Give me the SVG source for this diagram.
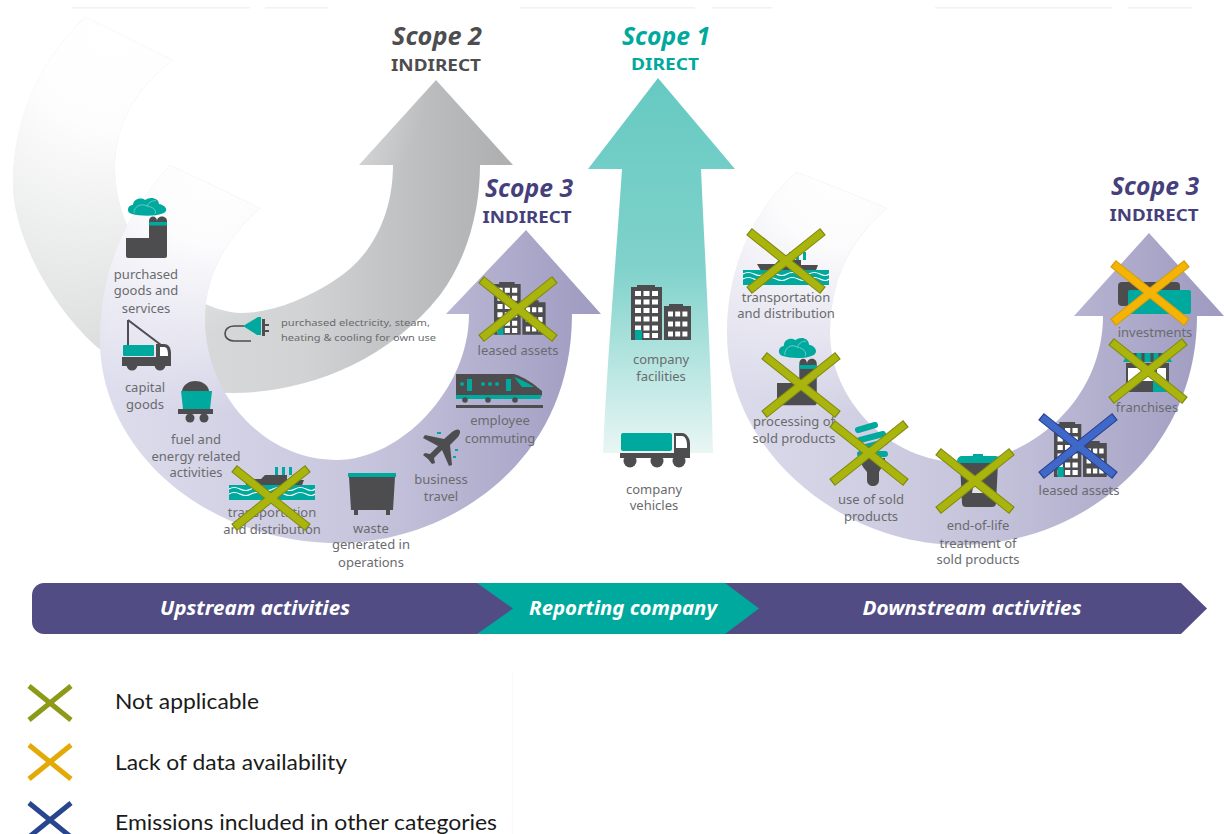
<svg xmlns="http://www.w3.org/2000/svg" width="1224" height="834" viewBox="0 0 1224 834">
<style>
text{font-family:"Noto Sans","Open Sans","Liberation Sans",sans-serif}
.l{font-size:13px;fill:#6a6b6e;text-anchor:middle}
.s{font-size:9.8px;fill:#6a6b6e}
.h{font-size:25px;font-weight:700;font-style:italic;text-anchor:middle}
.i{font-size:16.5px;font-weight:700;text-anchor:middle}
.b{font-size:19.5px;font-weight:700;font-style:italic;fill:#fff;text-anchor:middle}
.k{font-family:Lato,"Liberation Sans",sans-serif;font-size:22px;fill:#1a1a1a}
.d{fill:#4d4d4f}.t{fill:#00a99d}.w{fill:#fff}
.ln{fill:none;stroke-linecap:butt}
</style>
<defs>
<linearGradient id="g2" gradientUnits="userSpaceOnUse" x1="60" y1="0" x2="500" y2="0"><stop offset="0" stop-color="#dedfdf"/><stop offset=".55" stop-color="#d2d3d4"/><stop offset="1" stop-color="#afb0b1"/></linearGradient>
<linearGradient id="g3a" gradientUnits="userSpaceOnUse" x1="110" y1="0" x2="590" y2="0"><stop offset="0" stop-color="#dedded"/><stop offset=".55" stop-color="#c6c4dc"/><stop offset="1" stop-color="#a09cc2"/></linearGradient>
<linearGradient id="g3b" gradientUnits="userSpaceOnUse" x1="730" y1="0" x2="1215" y2="0"><stop offset="0" stop-color="#dcdbeb"/><stop offset=".55" stop-color="#c4c2da"/><stop offset="1" stop-color="#9f9bc1"/></linearGradient>
<linearGradient id="g1" gradientUnits="userSpaceOnUse" x1="0" y1="80" x2="0" y2="453"><stop offset="0" stop-color="#66cac2"/><stop offset=".5" stop-color="#7fd2cb"/><stop offset="1" stop-color="#e9f6f4"/></linearGradient>
<radialGradient id="f2" gradientUnits="userSpaceOnUse" cx="115" cy="30" r="320"><stop offset="0" stop-color="#fff"/><stop offset=".3" stop-color="#fff" stop-opacity=".95"/><stop offset="1" stop-color="#fff" stop-opacity="0"/></radialGradient>
<radialGradient id="f3a" gradientUnits="userSpaceOnUse" cx="215" cy="175" r="240"><stop offset="0" stop-color="#fff"/><stop offset=".3" stop-color="#fff" stop-opacity=".92"/><stop offset="1" stop-color="#fff" stop-opacity="0"/></radialGradient>
<radialGradient id="f3b" gradientUnits="userSpaceOnUse" cx="842" cy="175" r="240"><stop offset="0" stop-color="#fff"/><stop offset=".3" stop-color="#fff" stop-opacity=".92"/><stop offset="1" stop-color="#fff" stop-opacity="0"/></radialGradient>
<path id="p2" d="M85,17C40,60 13,120 13,183C13,235 50,305 97,347C135,378 185,393 233,393C300,393 385,365 440,295C470,255 480,205 480,165L513,165L436,80L359,165L393,165C393,210 375,255 335,280C305,300 270,313 241,313C200,313 115,260 115,167C115,120 140,85 173,60Z"/>
<path id="p3a" d="M170,165C125,215 100,270 100,340C100,450 205,543 340,543C440,543 572,470 572,314L601,314L526,230L446,314L469,314C469,390 400,460 337,460C260,460 205,390 205,320C205,275 225,240 260,208Z"/>
<path id="p3b" d="M797,172C752,210 727,270 727,333C727,450 840,545 960,545C1085,545 1197,450 1197,316L1224,316L1149,233L1074,316L1103,316C1103,400 1030,462 960,462C890,462 830,400 830,333C830,280 850,240 887,208Z"/>
<g id="xo"><path class="ln" stroke="#7f8a12" stroke-width="9" d="M-37,-29.5L37,29.5M-37,29.5L37,-29.5"/><path class="ln" stroke="#a9b40c" stroke-width="7" d="M-36,-28.7L36,28.7M-36,28.7L36,-28.7"/></g>
<g id="xy"><path class="ln" stroke="#d79c07" stroke-width="9" d="M-37,-29.5L37,29.5M-37,29.5L37,-29.5"/><path class="ln" stroke="#f3b406" stroke-width="7" d="M-36,-28.7L36,28.7M-36,28.7L36,-28.7"/></g>
<g id="xb"><path class="ln" stroke="#26418f" stroke-width="9" d="M-37,-29.5L37,29.5M-37,29.5L37,-29.5"/><path class="ln" stroke="#3f68c9" stroke-width="7" d="M-36,-28.7L36,28.7M-36,28.7L36,-28.7"/></g>
<g id="lx"><path class="ln" stroke-width="5" d="M-21,-17L21,17M-21,17L21,-17"/></g>
<g id="bld">
<path class="d" d="M0,2H6V0H24V2H31V55H0ZM33,21H38V19H52V21H60V55H33Z"/>
<path fill="none" stroke="#fff" stroke-width="5.2" stroke-dasharray="6 2.5" d="M4,8.500H29M4,17H29M4,25.500H29M4,34H29M4,43H29M4,50.500H29"/>
<path fill="none" stroke="#fff" stroke-width="5.2" stroke-dasharray="5 2.2" d="M37,29H58M37,39H58M37,49H58"/>
<rect class="t" x="4" y="45" width="7" height="10"/>
</g>
<g id="fac">
<path class="t" d="M6,17C0,16 1,8 7,8C7,2 15,0 19,3C24,-1 33,1 33,7C39,8 43,13 38,16C28,20 14,19 6,17Z"/>
<path fill="none" stroke="#7fd2cb" stroke-width=".8" d="M8,16C8,9 15,6 21,9C23,5 27,3 30,4M21,9C27,10 31,13 29,17"/>
<path class="d" d="M0,41H23V24C23,18 31,18 31,24V24C31,18 41,18 41,24V59C41,60 40,61 39,61H2C1,61 0,60 0,59Z"/>
<rect class="t" x="23" y="25" width="18" height="3.5"/>
</g>
<g id="shp">
<path class="d" d="M14,12H32L36,8H58V13H75L70,26H22Z"/>
<path class="t" d="M46,0h3v8h-3zM53,0h3v8h-3zM60,0h3v8h-3zM0,18H86V33H0Z"/>
<path fill="none" stroke="#fff" stroke-width="1.2" d="M0,22q5,-3 11,0t11,0t11,0t11,0t11,0t11,0t11,0t9,0M0,27q5,-3 11,0t11,0t11,0t11,0t11,0t11,0t11,0t9,0"/>
</g>
<g id="trk">
<rect class="t" x="1" y="0" width="51" height="18" rx="2"/>
<path class="d" d="M54,0H62C66,0 70,5 70,10V25H0V20H54Z"/>
<path class="w" d="M56,3H62C65,3 67,7 67,12V15H56Z"/>
<circle class="d" cx="10" cy="28" r="6.500"/><circle class="d" cx="37" cy="28" r="6.500"/><circle class="d" cx="59" cy="28" r="6.500"/>
</g>
<g id="crn">
<path fill="none" stroke="#4d4d4f" stroke-width="2" d="M6,0L39,25M6,0V25"/>
<path class="d" d="M34,24H42C46,24 49,27 49,33V46H0V37H34Z"/>
<path class="w" d="M38,27H42C45,27 46,30 46,36H38Z"/>
<rect class="t" x="1" y="25" width="31" height="11" rx="1"/>
<circle class="d" cx="10" cy="45" r="5.500"/><circle class="d" cx="38" cy="45" r="5.500"/>
</g>
<g id="wag">
<path class="d" d="M4,10C5,3 12,0 17,0C23,0 30,3 31,10Z"/>
<path class="t" d="M3,10H34L32,28H5Z"/>
<path class="d" d="M0,28H35V33H0Z"/>
<circle class="d" cx="12" cy="37" r="4.500"/><circle class="d" cx="26" cy="37" r="4.500"/>
</g>
<g id="trn">
<path class="d" d="M0,0H58C68,3 78,10 86,17V21H0Z"/>
<path class="t" d="M0,21H86L84,25H0ZM58,3C66,6 72,9 78,13H66Z"/>
<path class="t" d="M11,5h5v12h-5zM50,5h5v12h-5z"/>
<circle class="t" cx="6" cy="10" r="2"/><circle class="t" cx="27" cy="10" r="2"/><circle class="t" cx="34" cy="10" r="2"/><circle class="t" cx="41" cy="10" r="2"/>
<circle class="d" cx="9" cy="26" r="2.800"/><circle class="d" cx="32" cy="26" r="2.800"/><circle class="d" cx="59" cy="26" r="2.800"/>
<rect class="d" x="0" y="31" width="87" height="3"/>
</g>
<g id="pln">
<path class="d" d="M36,0C38,1 37,4 35,7L27,15L29,35L26,36L19,20L11,28L12,33L9,34L5,29L0,25L2,23L7,24L15,16L0,8L2,5L21,9L29,2C32,0 34,-1 36,0Z"/>
<path class="t" d="M14,2h4v2h-4zM30,26h3v2h-3zM32,19h3v2h-3z"/>
</g>
<g id="dmp">
<rect class="t" width="48" height="4"/>
<path class="d" d="M1,4H47L45,37H42V42H38V37H10V42H6V37H3Z"/>
</g>
<g id="blb">
<path fill="none" stroke="#00a99d" stroke-width="6" stroke-linecap="round" d="M3,8L20,3M5,18L28,12M7,26L30,20M5,32H30"/>
<path class="d" d="M5,36H30C30,42 26,46 24,50V58C24,66 12,66 12,58V50C9,46 5,42 5,36Z"/>
</g>
<g id="bin">
<path class="t" d="M0,10C0,5 2,3 5,3H16V1H26V3H38C41,3 43,5 43,10Z"/>
<path class="d" d="M3,10H41L39,50C39,53 37,54 35,54H9C7,54 5,53 5,50Z"/>
<path class="w" d="M16,34L22,26L31,40H15Z" opacity=".85"/>
</g>
<g id="inv">
<rect class="d" x="0" y="0" width="62" height="24" rx="4"/>
<rect class="t" x="10" y="8" width="63" height="24" rx="2"/>
<rect class="d" x="4" y="5" width="6" height="16" fill-opacity=".6"/>
</g>
<g id="shop">
<path class="t" d="M5,0H44L49,9H0Z"/>
<path fill="none" stroke="#4d4d4f" stroke-width="3" d="M12,0V9M20,0V9M29,0V9M37,0V9"/>
<rect class="d" x="3" y="10" width="43" height="29"/>
<rect class="w" x="5" y="15" width="25" height="13"/>
<rect class="w" x="34" y="15" width="9" height="13"/>
<path class="t" d="M30,28H45V39H30Z"/>
</g>
<g id="plg">
<path fill="none" stroke="#4d4d4f" stroke-width="1.600" d="M20,9H10C-2,9 -2,24 10,24H27"/>
<path class="t" d="M19,9L34,0H37V18H33Z"/>
<path class="d" d="M38,2h3v5h4v2h-4v4h4v2h-4v4h-3z"/>
</g>
</defs>

<g id="background-marks" fill="#f2f2f2">
<rect x="72" y="7" width="178" height="1.500"/><rect x="265" y="7" width="63" height="1.500"/><rect x="520" y="7" width="175" height="1.500"/><rect x="712" y="7" width="60" height="1.500"/><rect x="935" y="7" width="177" height="1.500"/><rect x="1128" y="7" width="64" height="1.500"/>
<rect x="512" y="672" width="1" height="162" fill="#fafafa"/>
</g>

<g id="connectors">
<use href="#p2" fill="url(#g2)"/><use href="#p2" fill="url(#f2)"/>
<use href="#p3a" fill="url(#g3a)"/><use href="#p3a" fill="url(#f3a)"/>
<path fill="url(#g1)" d="M658,78L735,169H701C705,260 711,360 713,453H603C607,360 616,260 622,169H588Z"/>
<use href="#p3b" fill="url(#g3b)"/><use href="#p3b" fill="url(#f3b)"/>
</g>

<g id="scope-2-title"><text class="h" x="437" y="45" fill="#4d4d4f" textLength="90" lengthAdjust="spacingAndGlyphs">Scope 2</text><text class="i" x="436" y="71" fill="#4d4d4f" textLength="90" lengthAdjust="spacingAndGlyphs">INDIRECT</text></g>
<g id="scope-1-title"><text class="h" x="666" y="45" fill="#00a99d" textLength="88" lengthAdjust="spacingAndGlyphs">Scope 1</text><text class="i" x="665" y="70" fill="#00a99d" textLength="68" lengthAdjust="spacingAndGlyphs">DIRECT</text></g>
<g id="scope-3-up-title"><text class="h" x="529" y="197" fill="#463f7c" textLength="88" lengthAdjust="spacingAndGlyphs">Scope 3</text><text class="i" x="527" y="223" fill="#463f7c" textLength="89" lengthAdjust="spacingAndGlyphs">INDIRECT</text></g>
<g id="scope-3-down-title"><text class="h" x="1155" y="195" fill="#463f7c" textLength="88" lengthAdjust="spacingAndGlyphs">Scope 3</text><text class="i" x="1154" y="221" fill="#463f7c" textLength="89" lengthAdjust="spacingAndGlyphs">INDIRECT</text></g>

<g id="purchased-goods"><use href="#fac" x="126" y="197"/><text class="l"><tspan x="146" y="279">purchased</tspan><tspan x="146" y="295">goods and</tspan><tspan x="146" y="313">services</tspan></text></g>
<g id="capital-goods"><use href="#crn" x="122" y="320"/><text class="l"><tspan x="145" y="392">capital</tspan><tspan x="145" y="409">goods</tspan></text></g>
<g id="fuel-energy"><use href="#wag" x="178" y="381"/><text class="l"><tspan x="196" y="444">fuel and</tspan><tspan x="196" y="461">energy related</tspan><tspan x="196" y="477">activities</tspan></text></g>
<g id="upstream-transport"><use href="#shp" x="229" y="467"/><text class="l"><tspan x="272" y="517">transportation</tspan><tspan x="272" y="534">and distribution</tspan></text><use href="#xo" x="271" y="498"/></g>
<g id="waste"><use href="#dmp" x="348" y="473"/><text class="l"><tspan x="371" y="533">waste</tspan><tspan x="371" y="549">generated in</tspan><tspan x="371" y="567">operations</tspan></text></g>
<g id="business-travel"><use href="#pln" x="423" y="430"/><text class="l"><tspan x="441" y="484">business</tspan><tspan x="441" y="501">travel</tspan></text></g>
<g id="employee-commuting"><use href="#trn" x="456" y="374"/><text class="l"><tspan x="500" y="425">employee</tspan><tspan x="500" y="443">commuting</tspan></text></g>
<g id="upstream-leased"><use href="#bld" transform="translate(494,282) scale(.86,.96)"/><text class="l" x="518" y="355">leased assets</text><use href="#xo" x="518" y="309"/></g>
<g id="purchased-electricity"><use href="#plg" x="224" y="317"/><text class="s"><tspan x="281" y="326" textLength="149" lengthAdjust="spacingAndGlyphs">purchased electricity, steam,</tspan><tspan x="281" y="341" textLength="155" lengthAdjust="spacingAndGlyphs">heating &amp; cooling for own use</tspan></text></g>
<g id="company-facilities"><use href="#bld" x="631" y="285"/><text class="l"><tspan x="661" y="364">company</tspan><tspan x="661" y="381">facilities</tspan></text></g>
<g id="company-vehicles"><use href="#trk" x="620" y="433"/><text class="l"><tspan x="654" y="494">company</tspan><tspan x="654" y="510">vehicles</tspan></text></g>
<g id="downstream-transport"><use href="#shp" x="743" y="252"/><text class="l"><tspan x="786" y="302">transportation</tspan><tspan x="786" y="318">and distribution</tspan></text><use href="#xo" x="786" y="261"/></g>
<g id="processing"><use href="#fac" transform="translate(777,337) scale(.97,1.12)"/><text class="l"><tspan x="794" y="426">processing of</tspan><tspan x="794" y="443">sold products</tspan></text><use href="#xo" x="801" y="385"/></g>
<g id="use-of-sold"><use href="#blb" x="855" y="422"/><text class="l"><tspan x="871" y="504">use of sold</tspan><tspan x="871" y="521">products</tspan></text><use href="#xo" x="869" y="453"/></g>
<g id="end-of-life"><use href="#bin" x="957" y="453"/><text class="l"><tspan x="978" y="530">end-of-life</tspan><tspan x="978" y="548">treatment of</tspan><tspan x="978" y="564">sold products</tspan></text><use href="#xo" x="975" y="481"/></g>
<g id="downstream-leased"><use href="#bld" transform="translate(1054,422) scale(.88,1)"/><text class="l" x="1079" y="495">leased assets</text><use href="#xb" x="1078" y="446"/></g>
<g id="franchises"><use href="#shop" x="1123" y="353"/><text class="l" x="1147" y="412">franchises</text><use href="#xo" x="1148" y="371"/></g>
<g id="investments"><use href="#inv" x="1118" y="282"/><text class="l" x="1155" y="337">investments</text><use href="#xy" x="1150" y="293"/></g>

<g id="activity-bar">
<path fill="#524c84" d="M725,583H1181L1207,608.500L1181,634H725Z"/>
<path fill="#00a99d" d="M470,583H725L759,608.500L725,634H470Z"/>
<path fill="#524c84" d="M44,583H477L513,608.500L477,634H44C37,634 32,628 32,622V595C32,589 37,583 44,583Z"/>
<text class="b" x="255" y="615" textLength="190" lengthAdjust="spacingAndGlyphs">Upstream activities</text>
<text class="b" x="623" y="615" textLength="188" lengthAdjust="spacingAndGlyphs">Reporting company</text>
<text class="b" x="972" y="615" textLength="219" lengthAdjust="spacingAndGlyphs">Downstream activities</text>
</g>

<g id="legend-not-applicable"><use href="#lx" x="50" y="703" stroke="#8d9a18"/><text class="k" x="115" y="709" textLength="144" lengthAdjust="spacingAndGlyphs">Not applicable</text></g>
<g id="legend-lack-of-data"><use href="#lx" x="50" y="762" stroke="#e3aa06"/><text class="k" x="115" y="770" textLength="232" lengthAdjust="spacingAndGlyphs">Lack of data availability</text></g>
<g id="legend-other-categories"><use href="#lx" x="50" y="820" stroke="#27468f"/><text class="k" x="115" y="830" textLength="382" lengthAdjust="spacingAndGlyphs">Emissions included in other categories</text></g>
</svg>
